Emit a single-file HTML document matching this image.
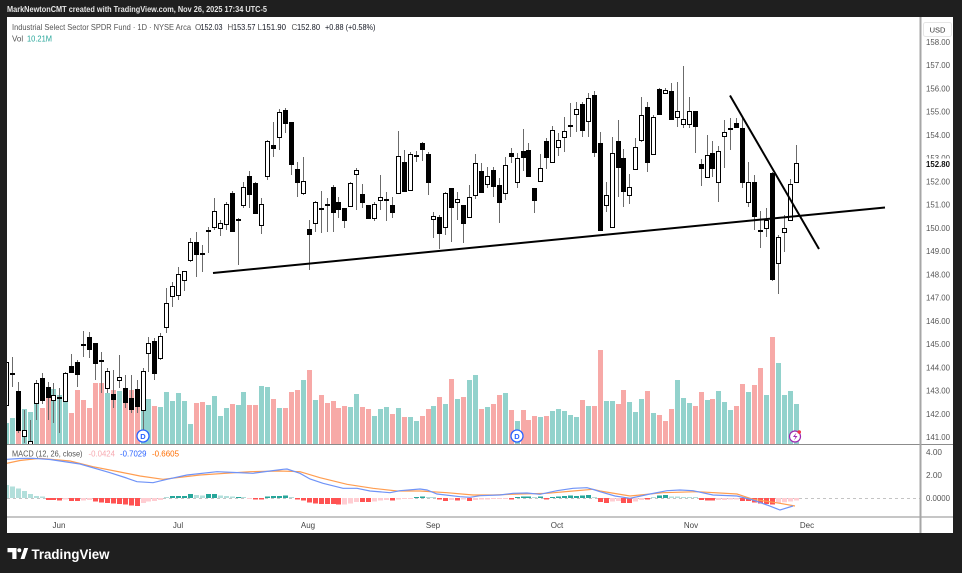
<!DOCTYPE html>
<html><head><meta charset="utf-8"><style>
html,body{margin:0;padding:0;background:#1f1f1f;}
svg{display:block;font-family:"Liberation Sans",Arial,sans-serif;}
</style></head><body>
<svg width="962" height="573" viewBox="0 0 962 573" xmlns="http://www.w3.org/2000/svg">
<defs>
<clipPath id="cm"><rect x="7" y="17" width="913" height="427"/></clipPath>
<clipPath id="cd"><rect x="7" y="444.5" width="913" height="72"/></clipPath>
</defs>
<rect x="0" y="0" width="962" height="573" fill="#1f1f1f"/>
<text x="7" y="12" font-size="8.5" fill="#e6e6e6" font-weight="bold" textLength="260" lengthAdjust="spacingAndGlyphs">MarkNewtonCMT created with TradingView.com, Nov 26, 2025 17:34 UTC-5</text>
<rect x="7" y="17" width="946" height="516" fill="#ffffff"/>

<!-- volume -->
<g clip-path="url(#cm)">
<path fill="#92d2cc" d="M4 423h5V444h-5zM10 418h5V444h-5zM22 409h5V444h-5zM28 412h5V444h-5zM34 403h5V444h-5zM51 389h5V444h-5zM57 395h5V444h-5zM63 402h5V444h-5zM105 393h5V444h-5zM117 391h5V444h-5zM141 405h5V444h-5zM146 399h5V444h-5zM158 407h5V444h-5zM164 392h5V444h-5zM170 401h5V444h-5zM176 393h5V444h-5zM182 401h5V444h-5zM188 424h5V444h-5zM206 405h5V444h-5zM212 396h5V444h-5zM218 416h5V444h-5zM224 408h5V444h-5zM236 405h5V444h-5zM241 392h5V444h-5zM259 386h5V444h-5zM265 387h5V444h-5zM277 408h5V444h-5zM301 380h5V444h-5zM313 400h5V444h-5zM348 407h5V444h-5zM354 394h5V444h-5zM372 416h5V444h-5zM378 409h5V444h-5zM384 407h5V444h-5zM396 408h5V444h-5zM408 417h5V444h-5zM414 421h5V444h-5zM431 406h5V444h-5zM443 404h5V444h-5zM455 399h5V444h-5zM467 380h5V444h-5zM473 375h5V444h-5zM485 407h5V444h-5zM503 393h5V444h-5zM515 421h5V444h-5zM538 417h5V444h-5zM550 411h5V444h-5zM556 409h5V444h-5zM562 411h5V444h-5zM568 415h5V444h-5zM574 417h5V444h-5zM586 406h5V444h-5zM604 401h5V444h-5zM610 401h5V444h-5zM627 402h5V444h-5zM633 412h5V444h-5zM639 399h5V444h-5zM651 413h5V444h-5zM675 380h5V444h-5zM681 398h5V444h-5zM687 403h5V444h-5zM705 400h5V444h-5zM716 391h5V444h-5zM722 402h5V444h-5zM728 410h5V444h-5zM746 392h5V444h-5zM764 395h5V444h-5zM776 363h5V444h-5zM782 395h5V444h-5zM788 391h5V444h-5zM794 404h5V444h-5z"/>
<path fill="#f7a9a7" d="M16 407h5V444h-5zM40 408h5V444h-5zM46 397h5V444h-5zM69 413h5V444h-5zM75 390h5V444h-5zM81 400h5V444h-5zM87 408h5V444h-5zM93 383h5V444h-5zM99 383h5V444h-5zM111 390h5V444h-5zM123 388h5V444h-5zM129 390h5V444h-5zM135 390h5V444h-5zM152 406h5V444h-5zM194 403h5V444h-5zM200 402h5V444h-5zM230 404h5V444h-5zM247 405h5V444h-5zM253 405h5V444h-5zM271 399h5V444h-5zM283 408h5V444h-5zM289 392h5V444h-5zM295 390h5V444h-5zM307 370h5V444h-5zM319 395h5V444h-5zM325 403h5V444h-5zM331 401h5V444h-5zM336 408h5V444h-5zM342 406h5V444h-5zM360 407h5V444h-5zM366 409h5V444h-5zM390 414h5V444h-5zM402 417h5V444h-5zM420 416h5V444h-5zM426 409h5V444h-5zM437 397h5V444h-5zM449 379h5V444h-5zM461 397h5V444h-5zM479 409h5V444h-5zM491 404h5V444h-5zM497 395h5V444h-5zM509 410h5V444h-5zM521 410h5V444h-5zM526 420h5V444h-5zM532 416h5V444h-5zM544 416h5V444h-5zM580 400h5V444h-5zM592 406h5V444h-5zM598 350h5V444h-5zM616 404h5V444h-5zM621 390h5V444h-5zM645 391h5V444h-5zM657 415h5V444h-5zM663 421h5V444h-5zM669 409h5V444h-5zM693 406h5V444h-5zM699 392h5V444h-5zM710 399h5V444h-5zM734 406h5V444h-5zM740 384h5V444h-5zM752 385h5V444h-5zM758 368h5V444h-5zM770 337h5V444h-5z"/>

<!-- wicks -->
<path fill="none" stroke="#6b6b6b" stroke-width="1" d="M6.5 358V410M12.5 357V387M18.5 382V433M24.5 410V443M30.5 420V445M36.5 380V420M42.5 373V404M48.5 382V420M53.5 383V423M59.5 388V433M65.5 372V402M71.5 354V373M77.5 360V387M83.5 331V357M89.5 332V358M95.5 343V380M101.5 352V393M107.5 368V393M113.5 370V408M119.5 355V388M125.5 375V408M131.5 375V413M137.5 380V413M143.5 368V430M148.5 337V372M154.5 338V380M160.5 333V360M166.5 288V333M172.5 282V307M178.5 267V300M184.5 271V291M190.5 238V262M196.5 232V277M202.5 245V272M208.5 227V253M214.5 198V230M220.5 220V236M226.5 202V230M232.5 191V231M238.5 218V265M243.5 182V208M249.5 171V208M255.5 182V213M261.5 198V234M267.5 140V180M273.5 122V157M279.5 109V150M285.5 108V133M291.5 122V175M297.5 162V197M303.5 157V195M309.5 220V270M315.5 201V232M321.5 191V233M327.5 198V232M333.5 185V232M338.5 197V218M344.5 208V228M350.5 182V207M356.5 168V210M362.5 184V208M368.5 205V219M374.5 202V221M380.5 175V210M386.5 192V221M392.5 197V218M398.5 131V193M404.5 150V191M410.5 152V190M416.5 151V162M422.5 142V161M428.5 152V195M433.5 212V238M439.5 215V249M445.5 192V235M451.5 188V242M457.5 192V220M463.5 205V243M469.5 185V217M475.5 154V199M481.5 163V193M487.5 167V188M493.5 167V197M499.5 178V223M505.5 157V200M511.5 148V163M517.5 153V188M523.5 129V171M528.5 143V177M534.5 188V213M540.5 154V182M546.5 138V169M552.5 126V162M558.5 133V156M564.5 117V152M570.5 103V137M576.5 102V132M582.5 102V137M588.5 93V137M594.5 91V157M600.5 132V230M606.5 182V212M612.5 137V227M618.5 120V197M623.5 149V207M629.5 174V204M635.5 138V169M641.5 97V142M647.5 102V172M653.5 115V154M659.5 88V115M665.5 88V94M671.5 83V120M677.5 82V127M683.5 66V128M689.5 97V128M695.5 111V153M701.5 159V186M707.5 135V178M712.5 141V177M718.5 146V202M724.5 120V168M730.5 118V150M736.5 118V128M742.5 118V188M748.5 162V207M754.5 175V230M760.5 211V248M766.5 208V237M772.5 172V281M778.5 235V294M784.5 215V252M790.5 179V220M796.5 145V183"/>

<!-- black bodies + dojis -->
<path fill="#000" stroke="#000" stroke-width="1" d="M16.5 391.5h4v39h-4zM40.5 378.5h4v22h-4zM46.5 387.5h4v10h-4zM69.5 366.5h4v6h-4zM75.5 362.5h4v12h-4zM87.5 337.5h4v12h-4zM93.5 343.5h4v20h-4zM111.5 394.5h4v5h-4zM123.5 388.5h4v14h-4zM129.5 398.5h4v11h-4zM135.5 389.5h4v17h-4zM152.5 341.5h4v32h-4zM194.5 242.5h4v12h-4zM230.5 193.5h4v38h-4zM247.5 176.5h4v18h-4zM253.5 183.5h4v30h-4zM271.5 145.5h4v3h-4zM283.5 110.5h4v13h-4zM289.5 122.5h4v42h-4zM295.5 169.5h4v13h-4zM307.5 229.5h4v5h-4zM331.5 187.5h4v25h-4zM336.5 202.5h4v7h-4zM342.5 208.5h4v12h-4zM360.5 194.5h4v8h-4zM366.5 205.5h4v13h-4zM390.5 205.5h4v7h-4zM402.5 162.5h4v29h-4zM420.5 143.5h4v6h-4zM426.5 154.5h4v28h-4zM437.5 217.5h4v16h-4zM449.5 188.5h4v19h-4zM461.5 205.5h4v18h-4zM479.5 171.5h4v21h-4zM491.5 170.5h4v16h-4zM497.5 185.5h4v17h-4zM509.5 153.5h4v3h-4zM521.5 151.5h4v6h-4zM526.5 150.5h4v26h-4zM532.5 188.5h4v12h-4zM544.5 141.5h4v16h-4zM580.5 104.5h4v26h-4zM592.5 95.5h4v57h-4zM598.5 143.5h4v87h-4zM616.5 141.5h4v26h-4zM621.5 158.5h4v33h-4zM645.5 107.5h4v55h-4zM657.5 89.5h4v25h-4zM669.5 91.5h4v28h-4zM693.5 111.5h4v15h-4zM699.5 164.5h4v4h-4zM710.5 153.5h4v15h-4zM734.5 123.5h4v4h-4zM740.5 128.5h4v54h-4zM752.5 182.5h4v34h-4zM770.5 173.5h4v106h-4zM10.5 373.5h4v1h-4zM57.5 397.5h4v1h-4zM81.5 344.5h4v1h-4zM99.5 360.5h4v1h-4zM200.5 253.5h4v1h-4zM206.5 230.5h4v1h-4zM236.5 219.5h4v1h-4zM319.5 208.5h4v1h-4zM325.5 204.5h4v1h-4zM384.5 199.5h4v1h-4zM414.5 155.5h4v1h-4zM568.5 125.5h4v1h-4zM728.5 128.5h4v1h-4zM758.5 230.5h4v1h-4z"/>
<!-- white bodies -->
<path fill="#fff" stroke="#000" stroke-width="1" d="M4.5 362.5h4v43h-4zM22.5 430.5h4v6h-4zM28.5 441.5h4v4h-4zM34.5 383.5h4v20h-4zM51.5 395.5h4v5h-4zM63.5 373.5h4v28h-4zM105.5 371.5h4v17h-4zM117.5 377.5h4v3h-4zM141.5 371.5h4v39h-4zM146.5 343.5h4v10h-4zM158.5 336.5h4v22h-4zM164.5 303.5h4v24h-4zM170.5 286.5h4v10h-4zM176.5 274.5h4v21h-4zM182.5 271.5h4v9h-4zM188.5 242.5h4v18h-4zM212.5 211.5h4v16h-4zM218.5 223.5h4v5h-4zM224.5 204.5h4v20h-4zM241.5 187.5h4v18h-4zM259.5 204.5h4v21h-4zM265.5 141.5h4v35h-4zM277.5 112.5h4v25h-4zM301.5 181.5h4v12h-4zM313.5 202.5h4v21h-4zM348.5 183.5h4v23h-4zM354.5 170.5h4v4h-4zM372.5 204.5h4v14h-4zM378.5 197.5h4v3h-4zM396.5 156.5h4v37h-4zM408.5 154.5h4v36h-4zM431.5 216.5h4v3h-4zM443.5 193.5h4v34h-4zM455.5 199.5h4v3h-4zM467.5 197.5h4v20h-4zM473.5 163.5h4v32h-4zM485.5 176.5h4v8h-4zM503.5 165.5h4v28h-4zM515.5 158.5h4v24h-4zM538.5 168.5h4v13h-4zM550.5 130.5h4v32h-4zM556.5 140.5h4v7h-4zM562.5 131.5h4v6h-4zM574.5 109.5h4v5h-4zM586.5 98.5h4v23h-4zM604.5 195.5h4v10h-4zM610.5 153.5h4v74h-4zM627.5 187.5h4v8h-4zM633.5 147.5h4v22h-4zM639.5 115.5h4v25h-4zM651.5 117.5h4v37h-4zM663.5 90.5h4v3h-4zM675.5 111.5h4v6h-4zM681.5 119.5h4v5h-4zM687.5 111.5h4v13h-4zM705.5 155.5h4v22h-4zM716.5 151.5h4v31h-4zM722.5 132.5h4v4h-4zM746.5 182.5h4v20h-4zM764.5 220.5h4v8h-4zM776.5 237.5h4v26h-4zM782.5 228.5h4v4h-4zM788.5 184.5h4v36h-4zM794.5 163.5h4v19h-4z"/>

<!-- trend lines -->
<line x1="213" y1="273" x2="885" y2="207.5" stroke="#000" stroke-width="2"/>
<line x1="730" y1="95.5" x2="819" y2="249" stroke="#000" stroke-width="2"/>
</g>

<!-- markers -->
<circle cx="143" cy="436" r="6" fill="#fff" stroke="#2962ff" stroke-width="1.3"/>
<text x="143" y="438.8" font-size="7.5" fill="#2962ff" text-anchor="middle" font-weight="bold">D</text>
<circle cx="517" cy="436" r="6" fill="#fff" stroke="#2962ff" stroke-width="1.3"/>
<text x="517" y="438.8" font-size="7.5" fill="#2962ff" text-anchor="middle" font-weight="bold">D</text>
<circle cx="795" cy="436.5" r="5.5" fill="#fff" stroke="#9c27b0" stroke-width="1.2"/>
<path d="M796.5 432.5 L793 437 L795.5 437 L794 440.5 L797.5 436 L795 436 Z" fill="#9c27b0"/>
<circle cx="799.2" cy="432" r="1.8" fill="#f23645"/>

<!-- legend -->
<text y="30" font-size="8" fill="#555"><tspan x="12" textLength="179" lengthAdjust="spacingAndGlyphs">Industrial Select Sector SPDR Fund · 1D · NYSE Arca</tspan></text>
<text y="30" font-size="8" fill="#555">
<tspan x="195">O</tspan><tspan x="200.5" fill="#131722" textLength="22" lengthAdjust="spacingAndGlyphs">152.03</tspan>
<tspan x="227.5">H</tspan><tspan x="233" fill="#131722" textLength="22.5" lengthAdjust="spacingAndGlyphs">153.57</tspan>
<tspan x="257.5">L</tspan><tspan x="262" fill="#131722" textLength="24" lengthAdjust="spacingAndGlyphs">151.90</tspan>
<tspan x="291.5">C</tspan><tspan x="297" fill="#131722" textLength="23" lengthAdjust="spacingAndGlyphs">152.80</tspan>
<tspan x="325" fill="#131722" textLength="50.5" lengthAdjust="spacingAndGlyphs">+0.88 (+0.58%)</tspan>
</text>
<text y="41.5" font-size="8" fill="#555"><tspan x="12">Vol</tspan><tspan x="27" fill="#26a69a" textLength="25" lengthAdjust="spacingAndGlyphs">10.21M</tspan></text>

<!-- MACD pane -->
<line x1="7" y1="498.5" x2="920" y2="498.5" stroke="#c4c4c4" stroke-width="1" stroke-dasharray="3 3"/>
<g clip-path="url(#cd)">
<path fill="#b2dfdb" d="M4 485h5V498h-5zM10 486.5h5V498h-5zM16 488.5h5V498h-5zM22 491h5V498h-5zM28 494h5V498h-5zM34 496h5V498h-5zM40 496.5h5V498h-5zM164 497h5V498h-5zM194 495h5V498h-5zM200 495.5h5V498h-5zM218 495.5h5V498h-5zM224 496h5V498h-5zM230 496.5h5V498h-5zM241 497h5V498h-5zM289 497h5V498h-5zM426 497h5V498h-5zM431 497h5V498h-5zM532 497h5V498h-5zM592 497h5V498h-5zM651 497h5V498h-5zM669 496.5h5V498h-5zM675 496.5h5V498h-5zM681 497h5V498h-5zM687 497h5V498h-5zM693 497h5V498h-5z"/>
<path fill="#26a69a" d="M170 496h5V498h-5zM176 496h5V498h-5zM182 496h5V498h-5zM188 494h5V498h-5zM206 494h5V498h-5zM212 494h5V498h-5zM236 497h5V498h-5zM265 496.5h5V498h-5zM271 496h5V498h-5zM277 496h5V498h-5zM283 495.5h5V498h-5zM414 497h5V498h-5zM420 496.5h5V498h-5zM515 497h5V498h-5zM521 496.5h5V498h-5zM526 496.5h5V498h-5zM538 496.5h5V498h-5zM550 497h5V498h-5zM556 496.5h5V498h-5zM562 496h5V498h-5zM568 495.5h5V498h-5zM574 496h5V498h-5zM580 495.5h5V498h-5zM586 495h5V498h-5zM657 495.5h5V498h-5zM663 495h5V498h-5z"/>
<path fill="#ff5252" d="M46 498h5V500h-5zM51 498h5V500h-5zM57 498h5V500.5h-5zM69 498h5V501h-5zM75 498h5V501h-5zM93 498h5V501.5h-5zM99 498h5V502.5h-5zM105 498h5V503h-5zM111 498h5V503.5h-5zM117 498h5V504h-5zM123 498h5V504.5h-5zM129 498h5V505.5h-5zM135 498h5V506h-5zM253 498h5V499.5h-5zM259 498h5V499.5h-5zM295 498h5V499.5h-5zM301 498h5V500.5h-5zM307 498h5V502.5h-5zM313 498h5V503.5h-5zM319 498h5V504h-5zM325 498h5V504h-5zM331 498h5V504h-5zM336 498h5V504.5h-5zM360 498h5V502h-5zM366 498h5V502h-5zM390 498h5V500.5h-5zM437 498h5V499.5h-5zM443 498h5V501h-5zM455 498h5V500.5h-5zM467 498h5V501h-5zM509 498h5V499.5h-5zM544 498h5V499.5h-5zM598 498h5V502h-5zM604 498h5V503h-5zM621 498h5V503h-5zM627 498h5V503h-5zM645 498h5V499.5h-5zM699 498h5V500h-5zM705 498h5V500.5h-5zM710 498h5V500.5h-5zM740 498h5V501h-5zM746 498h5V501h-5zM752 498h5V502.5h-5zM758 498h5V503.5h-5zM764 498h5V504h-5zM770 498h5V504.5h-5z"/>
<path fill="#ffcdd2" d="M63 498h5V499.5h-5zM81 498h5V500.5h-5zM87 498h5V500h-5zM141 498h5V503h-5zM146 498h5V501.5h-5zM152 498h5V501h-5zM158 498h5V500h-5zM247 498h5V499h-5zM342 498h5V504.5h-5zM348 498h5V503.5h-5zM354 498h5V502h-5zM372 498h5V501.5h-5zM378 498h5V500.5h-5zM384 498h5V500h-5zM396 498h5V499.5h-5zM402 498h5V499h-5zM408 498h5V499h-5zM449 498h5V500h-5zM461 498h5V499.5h-5zM473 498h5V500h-5zM479 498h5V499.5h-5zM485 498h5V499.5h-5zM491 498h5V499h-5zM497 498h5V499h-5zM503 498h5V499h-5zM610 498h5V501.5h-5zM616 498h5V501h-5zM633 498h5V501.5h-5zM639 498h5V500h-5zM716 498h5V500h-5zM722 498h5V500h-5zM728 498h5V499.5h-5zM734 498h5V499.5h-5zM776 498h5V503h-5zM782 498h5V502.3h-5zM788 498h5V501.5h-5zM794 498h5V500.5h-5z"/>
<polyline fill="none" stroke="#ff9d50" stroke-width="1.2" points="7,463.3 20,460.5 40,458.3 70,461 93,466.7 120,472 140,476 163,479.3 200,475 250,471.7 280,471 300,471.7 320,477.7 347,484.3 373,488.3 397,491 420,491 447,492.7 473,495 493,495 520,494 547,493.3 573,491 593,489.3 600,491 630,496 663,492.7 697,491.7 737,494 753,499.3 780,503.3 795,506"/>
<polyline fill="none" stroke="#6f93f7" stroke-width="1.2" points="7,459.3 20,458.5 33,458.3 50,459.5 80,464 110,472.7 125,477.5 137,481.7 153,482.7 167,479.3 187,475 217,471.7 235,472.5 253,473.3 270,471 283,469.3 287,469 300,473.3 310,479 323,483.3 343,488.3 357,488.3 370,491 390,492.7 400,490.7 420,489 427,490 437,494 460,496.7 470,497.3 480,495.7 500,495 513,493.3 527,493 540,494.3 557,490.7 573,488.3 587,487.7 595,490 600,491.7 615,496 630,498.3 650,494 667,490.7 680,490 693,490.7 713,495 737,496 753,500 767,505 780,510 793,506"/>
</g>
<text y="456.5" font-size="8" fill="#555"><tspan x="12" textLength="70.5" lengthAdjust="spacingAndGlyphs">MACD (12, 26, close)</tspan><tspan x="88.5" fill="#f7a9b0" textLength="26.5" lengthAdjust="spacingAndGlyphs">-0.0424</tspan><tspan x="120" fill="#2962ff" textLength="26.5" lengthAdjust="spacingAndGlyphs">-0.7029</tspan><tspan x="152" fill="#ff6d00" textLength="27" lengthAdjust="spacingAndGlyphs">-0.6605</tspan></text>

<!-- separators -->
<line x1="7" y1="444.5" x2="953" y2="444.5" stroke="#8c8c8c" stroke-width="1"/>
<line x1="7" y1="517" x2="953" y2="517" stroke="#8c8c8c" stroke-width="1"/>
<line x1="920.5" y1="17" x2="920.5" y2="533" stroke="#a6a6a6" stroke-width="2"/>

<!-- price axis -->
<rect x="923.5" y="22.5" width="28" height="14" rx="2" fill="#fff" stroke="#e6e6e6"/>
<text x="937.5" y="32.5" font-size="7.5" fill="#333" text-anchor="middle">USD</text>
<g font-size="8" fill="#555">
<text x="926" y="45" textLength="24" lengthAdjust="spacingAndGlyphs">158.00</text>
<text x="926" y="68.2" textLength="24" lengthAdjust="spacingAndGlyphs">157.00</text>
<text x="926" y="91.5" textLength="24" lengthAdjust="spacingAndGlyphs">156.00</text>
<text x="926" y="114.7" textLength="24" lengthAdjust="spacingAndGlyphs">155.00</text>
<text x="926" y="137.9" textLength="24" lengthAdjust="spacingAndGlyphs">154.00</text>
<text x="926" y="161.2" textLength="24" lengthAdjust="spacingAndGlyphs">153.00</text>
<text x="926" y="184.4" textLength="24" lengthAdjust="spacingAndGlyphs">152.00</text>
<text x="926" y="207.6" textLength="24" lengthAdjust="spacingAndGlyphs">151.00</text>
<text x="926" y="230.9" textLength="24" lengthAdjust="spacingAndGlyphs">150.00</text>
<text x="926" y="254.1" textLength="24" lengthAdjust="spacingAndGlyphs">149.00</text>
<text x="926" y="277.4" textLength="24" lengthAdjust="spacingAndGlyphs">148.00</text>
<text x="926" y="300.6" textLength="24" lengthAdjust="spacingAndGlyphs">147.00</text>
<text x="926" y="323.8" textLength="24" lengthAdjust="spacingAndGlyphs">146.00</text>
<text x="926" y="347.1" textLength="24" lengthAdjust="spacingAndGlyphs">145.00</text>
<text x="926" y="370.3" textLength="24" lengthAdjust="spacingAndGlyphs">144.00</text>
<text x="926" y="393.5" textLength="24" lengthAdjust="spacingAndGlyphs">143.00</text>
<text x="926" y="416.8" textLength="24" lengthAdjust="spacingAndGlyphs">142.00</text>
<text x="926" y="440" textLength="24" lengthAdjust="spacingAndGlyphs">141.00</text>
<text x="926" y="455" textLength="16" lengthAdjust="spacingAndGlyphs">4.00</text>
<text x="926" y="478" textLength="16" lengthAdjust="spacingAndGlyphs">2.00</text>
<text x="926" y="501" textLength="24" lengthAdjust="spacingAndGlyphs">0.0000</text>
</g>
<rect x="922" y="158.5" width="30" height="11" fill="#fff"/>
<text x="926" y="167" font-size="8.3" fill="#111" font-weight="bold" textLength="24" lengthAdjust="spacingAndGlyphs">152.80</text>

<!-- time axis -->
<g font-size="8" fill="#444" text-anchor="middle">
<text x="59" y="528">Jun</text>
<text x="178" y="528">Jul</text>
<text x="308" y="528">Aug</text>
<text x="433" y="528">Sep</text>
<text x="557" y="528">Oct</text>
<text x="691" y="528">Nov</text>
<text x="807" y="528">Dec</text>
</g>

<!-- TradingView logo -->
<path d="M7.5 548H16.5V559H12.3V552.3H7.5Z" fill="#fff"/>
<circle cx="19.3" cy="550.2" r="2" fill="#fff"/>
<path d="M20.5 559L24.2 548H28.2L24.5 559Z" fill="#fff"/>
<text x="31.5" y="559" font-size="13.5" font-weight="bold" fill="#fff" textLength="78" lengthAdjust="spacingAndGlyphs">TradingView</text>
</svg>
</body></html>
